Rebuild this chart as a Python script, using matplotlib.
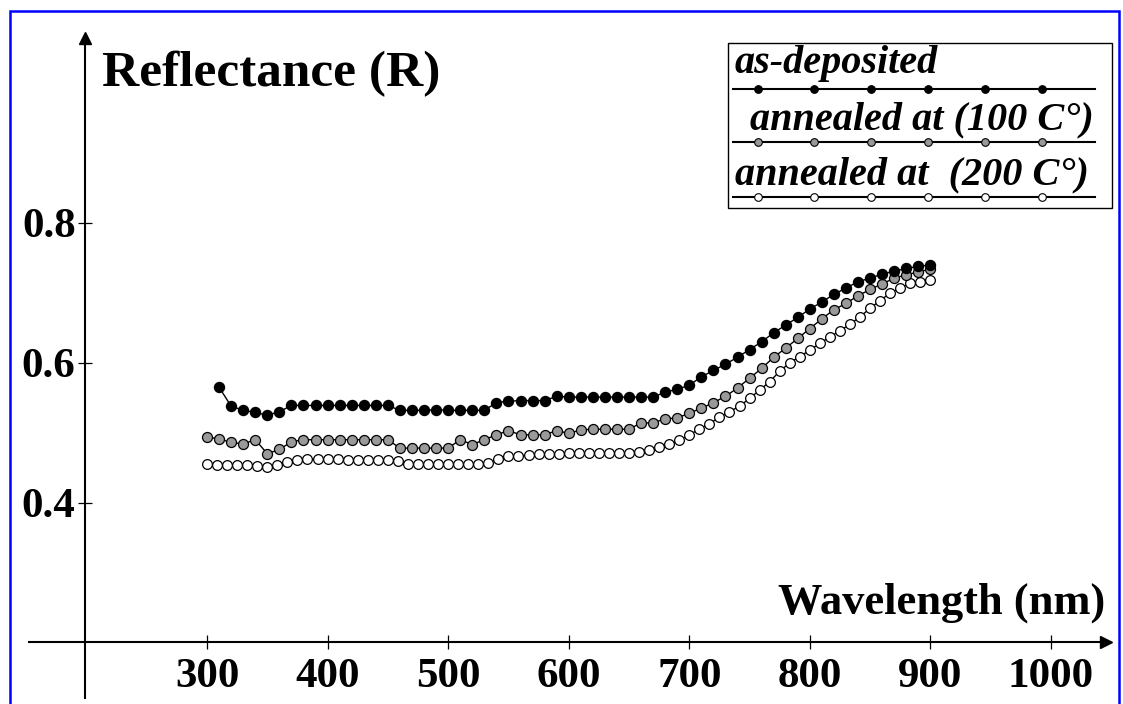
import numpy as np
import matplotlib
matplotlib.use("Agg")
import matplotlib.pyplot as plt
from matplotlib.patches import Rectangle
from matplotlib.lines import Line2D

plt.rcParams["font.family"] = ["Liberation Serif", "DejaVu Serif"]
plt.rcParams["font.weight"] = "bold"

# ---- data -------------------------------------------------------------
wl_dep = np.arange(310, 901, 10)
r_dep = [0.565, 0.538, 0.532, 0.529, 0.525, 0.530, 0.539, 0.539, 0.539, 0.539,
         0.539, 0.539, 0.539, 0.539, 0.539, 0.532, 0.532, 0.532, 0.533, 0.532,
         0.532, 0.532, 0.532, 0.543, 0.545, 0.546, 0.546, 0.546, 0.552, 0.551,
         0.551, 0.551, 0.551, 0.551, 0.551, 0.551, 0.551, 0.558, 0.562, 0.568,
         0.580, 0.589, 0.598, 0.608, 0.619, 0.630, 0.643, 0.654, 0.665, 0.677,
         0.687, 0.698, 0.707, 0.716, 0.721, 0.727, 0.731, 0.735, 0.738, 0.740]

wl_100 = np.arange(300, 901, 10)
r_100 = [0.494, 0.491, 0.486, 0.484, 0.490, 0.470, 0.476, 0.487, 0.490, 0.490,
         0.490, 0.490, 0.490, 0.490, 0.490, 0.490, 0.478, 0.478, 0.478, 0.478,
         0.478, 0.490, 0.483, 0.490, 0.497, 0.503, 0.497, 0.497, 0.497, 0.503,
         0.499, 0.504, 0.505, 0.505, 0.505, 0.505, 0.514, 0.514, 0.520, 0.521,
         0.528, 0.535, 0.543, 0.552, 0.564, 0.578, 0.592, 0.608, 0.621, 0.635,
         0.649, 0.663, 0.676, 0.685, 0.696, 0.705, 0.713, 0.721, 0.726, 0.730,
         0.734]

wl_200 = np.linspace(300, 900, 73)
r_200 = [0.455, 0.454, 0.454, 0.454, 0.454, 0.452, 0.451, 0.454, 0.458, 0.461,
         0.462, 0.462, 0.462, 0.462, 0.461, 0.461, 0.461, 0.461, 0.461, 0.460,
         0.455, 0.455, 0.455, 0.455, 0.455, 0.455, 0.455, 0.455, 0.457, 0.463,
         0.466, 0.467, 0.468, 0.469, 0.470, 0.470, 0.471, 0.471, 0.471, 0.471,
         0.471, 0.471, 0.471, 0.472, 0.475, 0.479, 0.484, 0.489, 0.497, 0.505,
         0.513, 0.522, 0.530, 0.538, 0.549, 0.561, 0.573, 0.588, 0.600, 0.609,
         0.618, 0.628, 0.637, 0.646, 0.655, 0.666, 0.678, 0.689, 0.700, 0.707,
         0.714, 0.716, 0.719]

x_ticks = [300, 400, 500, 600, 700, 800, 900, 1000]
y_ticks = [0.4, 0.6, 0.8]
y_tick_labels = ["0.4", "0.6", "0.8"]
series_labels = ["as-deposited", "annealed at (100 C°)", "annealed at  (200 C°)"]

# ---- figure -----------------------------------------------------------
W, H = 1123, 704
fig = plt.figure(figsize=(W / 100, H / 100), dpi=100)
fig.patch.set_facecolor("white")


def fx(px):
    return px / W


def fy(py):
    return 1 - py / H


# blue frame
fig.add_artist(Rectangle((fx(10), fy(760)), fx(1119) - fx(10), fy(11) - fy(760),
                         transform=fig.transFigure, fill=False,
                         edgecolor="#0000ff", linewidth=1.8))

ax = fig.add_axes([0, 0, 1, 1])
ax.set_facecolor("none")
ax.set_xlim(128.3, 1059.7)
ax.set_ylim(0.1119, 1.119)

for s in ("top", "right"):
    ax.spines[s].set_visible(False)
ax.spines["left"].set_position(("data", 199))
ax.spines["bottom"].set_position(("data", 0.2))
ax.spines["left"].set_bounds(0.1205, 1.064)
ax.spines["bottom"].set_bounds(152, 1045)
for s in ("left", "bottom"):
    ax.spines[s].set_linewidth(1.5)

# arrow heads
ax.plot([1045.5], [0.2], marker=">", markersize=8, color="black", clip_on=False)
ax.plot([199], [1.065], marker="^", markersize=8, color="black", clip_on=False)

ax.set_xticks(x_ticks)
ax.set_xticklabels([str(v) for v in x_ticks])
ax.set_yticks(y_ticks)
ax.set_yticklabels(y_tick_labels)
ax.tick_params(axis="both", direction="inout", length=10, width=0.9,
               labelsize=31, colors="black")
ax.tick_params(axis="x", pad=6)
ax.tick_params(axis="y", pad=2)

# series
ax.plot(wl_200, r_200, color="black", linewidth=1.0, marker="o", markersize=7,
        markerfacecolor="white", markeredgecolor="black", markeredgewidth=0.9,
        zorder=3)
ax.plot(wl_100, r_100, color="black", linewidth=1.0, marker="o", markersize=7.2,
        markerfacecolor="#999999", markeredgecolor="black", markeredgewidth=0.9,
        zorder=4)
ax.plot(wl_dep, r_dep, color="black", linewidth=1.0, marker="o", markersize=7.2,
        markerfacecolor="black", markeredgecolor="black", zorder=5)

# axis titles
fig.text(fx(102), fy(86), "Reflectance (R)", fontsize=37, fontweight="bold",
         ha="left", va="baseline")
fig.text(fx(1105), fy(614), "Wavelength (nm)", fontsize=32, fontweight="bold",
         ha="right", va="baseline")

# legend box
fig.add_artist(Rectangle((fx(728), fy(208)), fx(1112) - fx(728), fy(43) - fy(208),
                         transform=fig.transFigure, fill=True, facecolor="white",
                         edgecolor="black", linewidth=1.0, zorder=6))
leg_rows = [(73, 89, "black", 735), (129, 142, "#999999", 750), (184, 197, "white", 735)]
mx = [758, 814, 871, 928, 985, 1042]
for (tb, ly, fc, tx), lab in zip(leg_rows, series_labels):
    fig.add_artist(Line2D([fx(733), fx(1095)], [fy(ly), fy(ly)],
                          transform=fig.transFigure, color="black",
                          linewidth=1.5, zorder=7))
    fig.add_artist(Line2D([fx(m) for m in mx], [fy(ly)] * len(mx),
                          transform=fig.transFigure, linestyle="none",
                          marker="o", markersize=5.5, markerfacecolor=fc,
                          markeredgecolor="black", markeredgewidth=0.8, zorder=8))
    fig.text(fx(tx), fy(tb), lab, fontsize=29, fontweight="bold",
             fontstyle="italic", ha="left", va="baseline", zorder=8)

fig.savefig("out.png", dpi=100)
